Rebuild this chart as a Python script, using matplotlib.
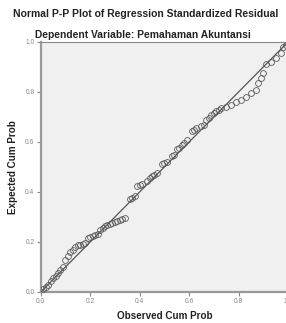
import matplotlib
matplotlib.use("Agg")
import matplotlib.pyplot as plt

plt.rcParams['font.family'] = ['Liberation Sans', 'DejaVu Sans']

title = "Normal P-P Plot of Regression Standardized Residual"
subtitle = "Dependent Variable: Pemahaman Akuntansi"
xlabel = "Observed Cum Prob"
ylabel = "Expected Cum Prob"
ticks = [0.0, 0.2, 0.4, 0.6, 0.8, 1.0]
tick_labels = ["0.0", "0.2", "0.4", "0.6", "0.8", "1.0"]

observed = [0.0, 0.01, 0.02, 0.03, 0.04, 0.05, 0.06, 0.07, 0.08, 0.09,
            0.10, 0.11, 0.12, 0.13, 0.14, 0.15, 0.16, 0.17, 0.18, 0.19,
            0.20, 0.21, 0.22, 0.23, 0.24, 0.25, 0.26, 0.27, 0.28, 0.29,
            0.30, 0.31, 0.32, 0.33, 0.34, 0.36, 0.37, 0.38, 0.39, 0.40,
            0.41, 0.43, 0.44, 0.45, 0.46, 0.47, 0.49, 0.50, 0.51, 0.53,
            0.54, 0.55, 0.56, 0.57, 0.58, 0.59, 0.61, 0.62, 0.63, 0.65,
            0.66, 0.67, 0.68, 0.69, 0.70, 0.71, 0.72, 0.73, 0.75, 0.77,
            0.79, 0.81, 0.83, 0.85, 0.87, 0.88, 0.89, 0.90, 0.91, 0.93,
            0.95, 0.97, 0.98, 0.99]
expected = [0.0, 0.012, 0.022, 0.03, 0.045, 0.055, 0.065, 0.078, 0.088, 0.10,
            0.13, 0.145, 0.16, 0.17, 0.18, 0.188, 0.19, 0.193, 0.197, 0.215,
            0.22, 0.225, 0.228, 0.232, 0.25, 0.258, 0.263, 0.267, 0.272, 0.276,
            0.28, 0.284, 0.287, 0.291, 0.296, 0.372, 0.378, 0.385, 0.425, 0.43,
            0.434, 0.445, 0.457, 0.463, 0.47, 0.476, 0.513, 0.518, 0.522, 0.545,
            0.55, 0.572, 0.578, 0.59, 0.597, 0.607, 0.645, 0.65, 0.658, 0.665,
            0.67, 0.69, 0.698, 0.71, 0.716, 0.724, 0.73, 0.738, 0.741, 0.748,
            0.76, 0.767, 0.78, 0.795, 0.808, 0.835, 0.855, 0.875, 0.912, 0.92,
            0.935, 0.955, 0.98, 0.99]

W, H = 286, 323
fig = plt.figure(figsize=(W / 100, H / 100), dpi=100)
fig.patch.set_facecolor('white')

left, right, top, bottom = 40.7, 288.0, 42.0, 292.0
ax = fig.add_axes([left / W, 1 - bottom / H, (right - left) / W, (bottom - top) / H])
ax.set_facecolor('#f0f0f0')

ax.plot([0, 1], [0, 1], color='#555555', lw=0.9, zorder=2)
ax.plot(observed, expected, linestyle='none', marker='o', markersize=4.2,
        markerfacecolor='none', markeredgecolor='#5a5a5a', markeredgewidth=0.6,
        zorder=3)

ax.set_xlim(0, 1)
ax.set_ylim(0, 1)
ax.set_xticks(ticks)
ax.set_xticklabels(tick_labels)
ax.set_yticks(ticks)
ax.set_yticklabels(tick_labels)
ax.tick_params(axis='both', direction='out', length=3, width=0.8, color='#888888',
               labelsize=4.8, labelcolor='#888888', pad=1.5)

for s in ['left', 'bottom']:
    ax.spines[s].set_color('#999999')
    ax.spines[s].set_linewidth(1.6)
ax.spines['top'].set_color('#888888')
ax.spines['top'].set_linewidth(0.8)
ax.spines['right'].set_visible(False)

ax.set_xlabel(xlabel, fontsize=7.1, fontweight='bold', color='#222222', labelpad=4)
ax.set_ylabel(ylabel, fontsize=7.1, fontweight='bold', color='#222222', labelpad=5)

fig.text(146 / W, 1 - 14 / H, title, ha='center', va='center', fontsize=7.5,
         fontweight='bold', color='#222222')
fig.text(143 / W, 1 - 35 / H, subtitle, ha='center', va='center', fontsize=7.4,
         fontweight='bold', color='#222222')

fig.savefig('out.png', dpi=100, facecolor='white')
